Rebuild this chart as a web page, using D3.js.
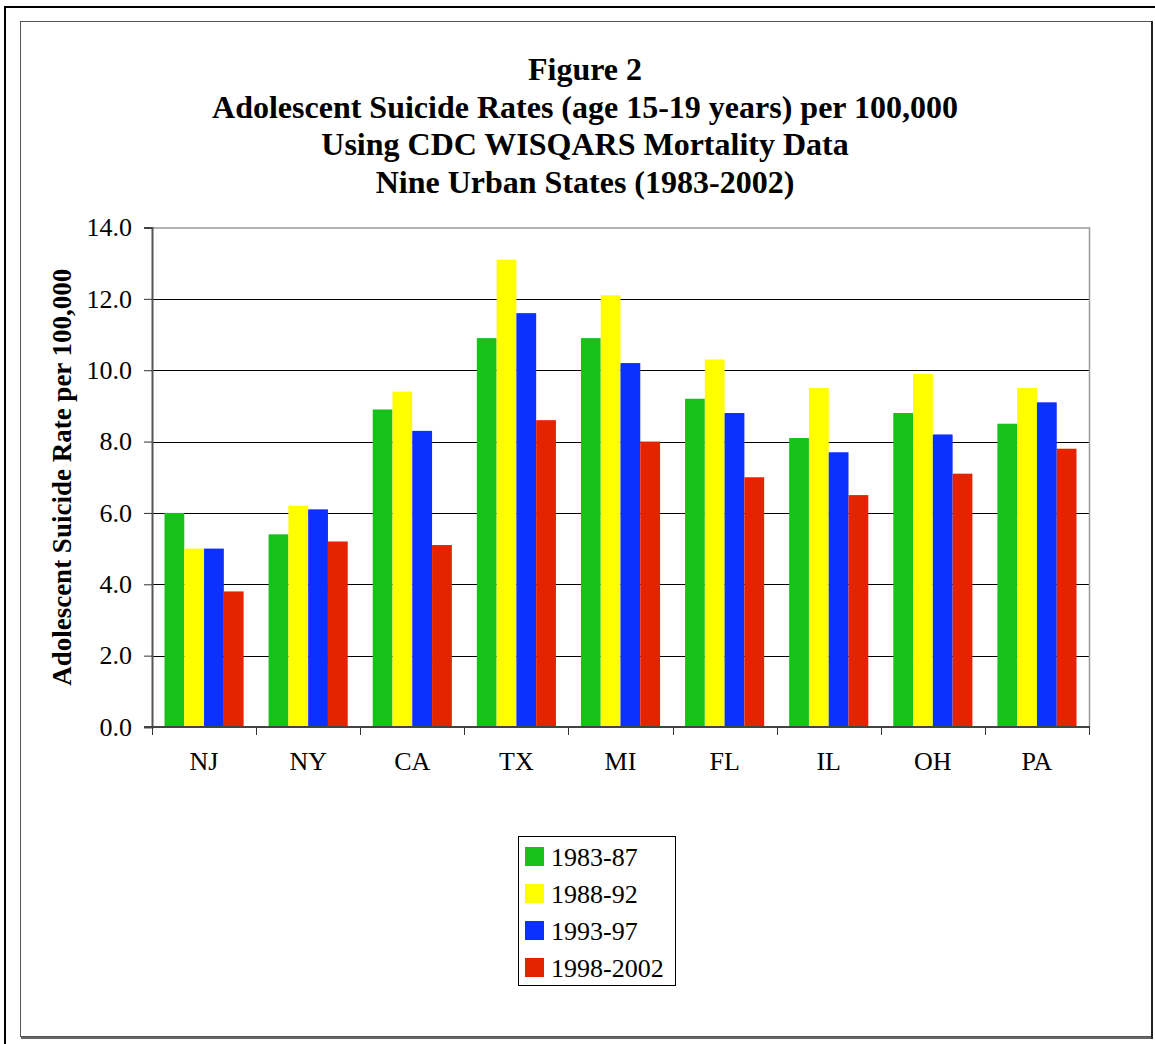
<!DOCTYPE html>
<html>
<head>
<meta charset="utf-8">
<script src="https://cdn.jsdelivr.net/npm/d3@7"></script>
<style>
  html, body { margin: 0; padding: 0; background: #fff; }
  svg { display: block; }
  text { font-family: "Liberation Serif", "Times New Roman", serif; fill: #000; }
</style>
</head>
<body>
<svg id="chart" width="1155" height="1044"></svg>
<script>
// States and adolescent suicide rates (age 15-19) per 100,000, by period
const states = ["NJ", "NY", "CA", "TX", "MI", "FL", "IL", "OH", "PA"];
const periods = ["1983-87", "1988-92", "1993-97", "1998-2002"];
const rates1983_87   = [6.0, 5.4, 8.9, 10.9, 10.9, 9.2, 8.1, 8.8, 8.5];
const rates1988_92   = [5.0, 6.2, 9.4, 13.1, 12.1, 10.3, 9.5, 9.9, 9.5];
const rates1993_97   = [5.0, 6.1, 8.3, 11.6, 10.2, 8.8, 7.7, 8.2, 9.1];
const rates1998_2002 = [3.8, 5.2, 5.1, 8.6, 8.0, 7.0, 6.5, 7.1, 7.8];
const yTicks = [0, 2, 4, 6, 8, 10, 12, 14];
const titleLines = [
  "Figure 2",
  "Adolescent Suicide Rates (age 15-19 years) per 100,000",
  "Using CDC WISQARS Mortality Data",
  "Nine Urban States (1983-2002)"
];
const yLabel = "Adolescent Suicide Rate per 100,000";
const colors = ["#18c01a", "#ffff00", "#0c30ff", "#e42400"];

const seriesValues = [rates1983_87, rates1988_92, rates1993_97, rates1998_2002];
const rows = states.map((s, i) => ({ state: s, values: seriesValues.map(v => v[i]) }));

const svg = d3.select("#chart");

// Page frame
svg.append("line").attr("x1", 5).attr("x2", 1155).attr("y1", 7).attr("y2", 7)
  .attr("stroke", "#000").attr("stroke-width", 2);
svg.append("line").attr("x1", 5).attr("x2", 5).attr("y1", 6).attr("y2", 1044)
  .attr("stroke", "#000").attr("stroke-width", 2);
svg.append("rect").attr("x", 20.5).attr("y", 21.5).attr("width", 1131).attr("height", 1015)
  .attr("fill", "#fff").attr("stroke", "#555").attr("stroke-width", 1);
svg.append("line").attr("x1", 1152).attr("x2", 1152).attr("y1", 21).attr("y2", 1039)
  .attr("stroke", "#222").attr("stroke-width", 2);
svg.append("line").attr("x1", 21).attr("x2", 1153).attr("y1", 1038).attr("y2", 1038)
  .attr("stroke", "#333").attr("stroke-width", 1.5);

// Plot area
const plot = { left: 152, right: 1089, top: 227.5, bottom: 727 };

const x0 = d3.scaleBand().domain(states).range([plot.left, plot.right])
  .paddingInner(0.24).paddingOuter(0.12);
const x1 = d3.scaleBand().domain(d3.range(periods.length)).range([0, x0.bandwidth()]);
const catScale = d3.scaleBand().domain(states).range([plot.left, plot.right]);
const y = d3.scaleLinear().domain([0, 14]).range([plot.bottom, plot.top]);

// Horizontal gridlines
svg.append("g").selectAll("line").data(yTicks.filter(t => t > 0 && t < 14)).join("line")
  .attr("x1", plot.left).attr("x2", plot.right)
  .attr("y1", d => Math.round(y(d)) + 0.5).attr("y2", d => Math.round(y(d)) + 0.5)
  .attr("stroke", "#000").attr("stroke-width", 1);

// Plot border (top and right)
svg.append("path")
  .attr("d", `M${plot.left},${plot.top + 0.5}H${plot.right + 0.5}V${plot.bottom}`)
  .attr("fill", "none").attr("stroke", "#999").attr("stroke-width", 1.5);

// Bars
svg.append("g").selectAll("g").data(rows).join("g")
  .attr("transform", d => `translate(${x0(d.state)},0)`)
  .selectAll("rect").data(d => d.values.map((v, k) => ({ v, k }))).join("rect")
  .attr("x", d => x1(d.k))
  .attr("width", x1.bandwidth())
  .attr("y", d => y(d.v))
  .attr("height", d => y(0) - y(d.v))
  .attr("fill", d => colors[d.k]);

// Y axis
const yAxis = d3.axisLeft(y).tickValues(yTicks).tickFormat(d3.format(".1f"))
  .tickSize(8).tickPadding(12);
const gy = svg.append("g").attr("transform", `translate(${plot.left},0)`).call(yAxis);
gy.select(".domain").attr("stroke", "#555").attr("stroke-width", 2);
gy.selectAll(".tick line").attr("stroke", "#333");
gy.selectAll(".tick text").attr("font-size", 26)
  .style("font-family", "'Liberation Serif', serif").attr("fill", "#000");

// X axis: ticks on category boundaries
const gx = svg.append("g").attr("transform", `translate(0,${plot.bottom})`);
gx.append("line").attr("x1", plot.left - 8).attr("x2", plot.right + 1)
  .attr("y1", 0).attr("y2", 0).attr("stroke", "#444").attr("stroke-width", 2);
const boundaries = states.map(s => catScale(s)).concat([plot.right]);
gx.selectAll("line.tk").data(boundaries).join("line").attr("class", "tk")
  .attr("x1", d => Math.round(d) + 0.5).attr("x2", d => Math.round(d) + 0.5)
  .attr("y1", 0).attr("y2", 8).attr("stroke", "#333");
gx.selectAll("text").data(states).join("text")
  .attr("x", d => catScale(d) + catScale.bandwidth() / 2)
  .attr("y", 43).attr("text-anchor", "middle").attr("font-size", 26)
  .text(d => d);

// Title
svg.append("g").selectAll("text").data(titleLines).join("text")
  .attr("x", 585).attr("y", (d, i) => 80 + i * 37.5)
  .attr("text-anchor", "middle").attr("font-size", 32).attr("font-weight", "bold")
  .text(d => d);

// Y axis label
svg.append("text")
  .attr("transform", `translate(71,${(plot.top + plot.bottom) / 2}) rotate(-90)`)
  .attr("text-anchor", "middle").attr("font-size", 27).attr("font-weight", "bold")
  .text(yLabel);

// Legend
const legend = svg.append("g").attr("transform", "translate(518,836)");
legend.append("rect").attr("x", 0.5).attr("y", 0.5).attr("width", 157).attr("height", 149)
  .attr("fill", "#fff").attr("stroke", "#000").attr("stroke-width", 1);
const items = legend.selectAll("g.item").data(periods).join("g").attr("class", "item")
  .attr("transform", (d, i) => `translate(0,${11 + i * 37})`);
items.append("rect").attr("x", 7).attr("y", 0).attr("width", 19).attr("height", 19)
  .attr("fill", (d, i) => colors[i]);
items.append("text").attr("x", 33).attr("y", 19).attr("font-size", 26).text(d => d);
</script>
</body>
</html>
